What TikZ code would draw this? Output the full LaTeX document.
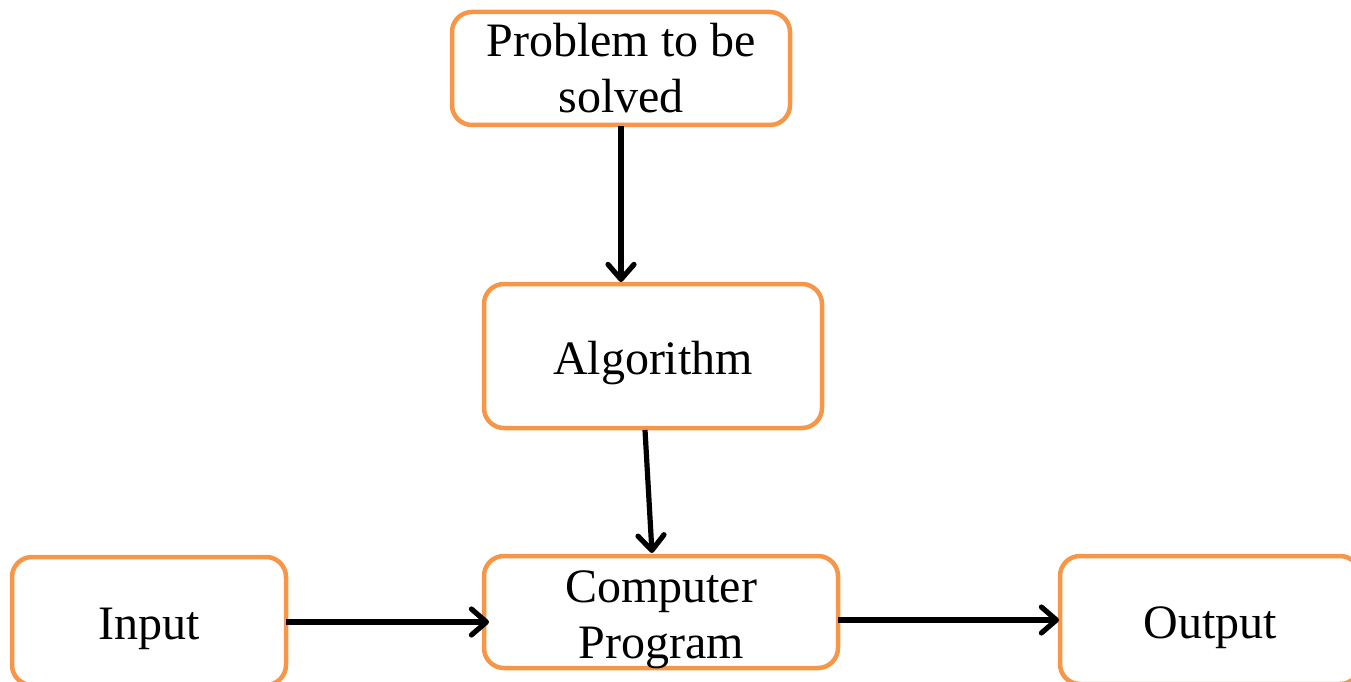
\documentclass[tikz,border=0pt]{standalone}
\usepackage{fontspec}
\setmainfont{Liberation Serif}
\usetikzlibrary{arrows.meta}
\definecolor{boxorange}{HTML}{F79646}
\newcommand\bxtext[2]{\raisebox{#1}[0pt][0pt]{\begin{tabular}[t]{@{}c@{}}#2\end{tabular}}}
\tikzset{
  box/.style={draw=boxorange, line width=4.5pt, rounded corners=20pt, fill=white,
    inner sep=0pt, font=\fontsize{48}{56}\selectfont},
  conn/.style={draw=black, line width=5.2pt,
    -{Straight Barb[length=15pt,width=26pt,line cap=round,line join=round]}}
}
\begin{document}
\begin{tikzpicture}[x=1pt,y=-1pt]
\useasboundingbox (0,0) rectangle (1351,682);
\node[box, minimum width=338pt, minimum height=113pt] (prob) at (621,68.5) {\bxtext{11.5pt}{Problem to be\\solved}};
\node[box, minimum width=338pt, minimum height=144pt] (alg) at (653,356) {\bxtext{-18pt}{Algorithm}};
\node[box, minimum width=354pt, minimum height=112pt] (cp) at (661,612) {\bxtext{10pt}{Computer\\Program}};
\node[box, minimum width=274pt, minimum height=128pt] (in) at (149,621) {\bxtext{-18pt}{Input}};
\node[box, minimum width=300pt, minimum height=128pt] (out) at (1210,620) {\bxtext{-18pt}{Output}};
\coordinate (a1s) at (621,126);
\coordinate (a1e) at (621,282);
\coordinate (a2s) at (645,430);
\coordinate (a2e) at (652,553);
\coordinate (a3s) at (286,622);
\coordinate (a3e) at (489,622);
\coordinate (a4s) at (838,620);
\coordinate (a4e) at (1059,620);
\draw[conn] (a1s) -- (a1e);
\draw[conn] (a2s) -- (a2e);
\draw[conn] (a3s) -- (a3e);
\draw[conn] (a4s) -- (a4e);
\end{tikzpicture}
\end{document}
